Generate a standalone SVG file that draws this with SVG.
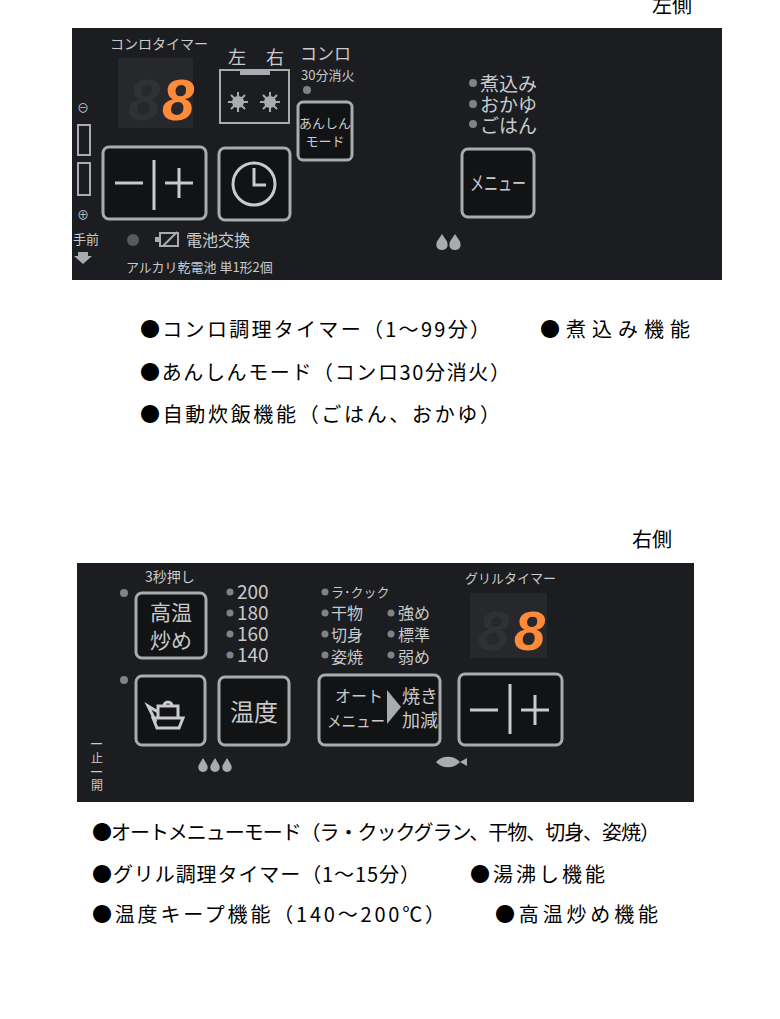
<svg xmlns="http://www.w3.org/2000/svg" width="780" height="1019" viewBox="0 0 780 1019">
<defs>
<style>
.p{fill:#1c1d20}
.btn{fill:#121315;stroke:#a9abaf;stroke-width:3}
.t{font-family:"Noto Sans CJK JP","Liberation Sans",sans-serif;fill:#c9cacc}
.b{font-family:"Noto Sans CJK JP","Liberation Sans",sans-serif;fill:#000;font-size:20px}
.dot{fill:#808285}
.seg{fill:#ff8a3a}
.ln{stroke:#c9cacc;stroke-width:3;fill:none}
</style>
</defs>
<rect width="780" height="1019" fill="#fff"/>
<text class="b" x="652" y="13" font-size="18">左側</text>
<g id="panel-left">
<rect class="p" x="72" y="28" width="650" height="252"/>
<text class="t" x="110" y="49" font-size="14">コンロタイマー</text>
<rect x="118" y="58" width="75" height="70" fill="#26282b"/>
<text x="128" y="120" font-family="Liberation Sans,sans-serif" font-size="58" font-style="italic" font-weight="bold" fill="#2f3134">8</text>
<text x="162" y="120" font-family="Liberation Sans,sans-serif" font-size="58" font-style="italic" font-weight="bold" class="seg">8</text>
<text class="t" x="228" y="64" font-size="18">左</text>
<text class="t" x="266" y="64" font-size="18">右</text>
<rect x="220" y="70" width="69" height="53" fill="none" stroke="#a9abaf" stroke-width="2"/>
<rect x="240" y="71" width="30" height="4" fill="#a9abaf"/>
<g fill="#a9abaf"><circle cx="238" cy="102" r="6"/><circle cx="270" cy="102" r="6"/></g>
<g stroke="#a9abaf" stroke-width="2"><path d="M238 92v20M228 102h20M231 95l14 14M245 95l-14 14M270 92v20M260 102h20M263 95l14 14M277 95l-14 14"/></g>
<text class="t" x="300" y="60" font-size="17">コンロ</text>
<text class="t" x="301" y="80" font-size="13">30分消火</text>
<circle class="dot" cx="307" cy="90" r="4"/>
<g id="anshin"><rect class="btn" x="298" y="102" width="54" height="58" rx="5"/>
<text class="t" x="325" y="128" font-size="13" text-anchor="middle">あんしん</text>
<text class="t" x="325" y="146" font-size="13" text-anchor="middle">モード</text></g>
<circle class="dot" cx="473" cy="83" r="4"/><circle class="dot" cx="473" cy="104" r="4"/><circle class="dot" cx="473" cy="124" r="4"/>
<text class="t" x="480" y="91" font-size="19">煮込み</text>
<text class="t" x="480" y="112" font-size="19">おかゆ</text>
<text class="t" x="480" y="133" font-size="19">ごはん</text>
<g id="menu"><rect class="btn" x="462" y="149" width="72" height="68" rx="6"/>
<text class="t" x="470" y="191" font-size="20" textLength="56" lengthAdjust="spacingAndGlyphs">メニュー</text></g>
<g id="minusplus1"><rect class="btn" x="103" y="147" width="103" height="72" rx="6"/>
<path class="ln" d="M115 183h28M154 160v50M165 183h28M179 168v30" stroke-width="4"/></g>
<g id="clock"><rect class="btn" x="219" y="148" width="71" height="72" rx="6"/>
<circle cx="254" cy="184" r="21" class="ln" stroke-width="2.5"/>
<path class="ln" d="M254 168v17h12" stroke-width="2.5"/></g>
<g class="t" font-size="12"><text x="77" y="113">⊖</text><text x="77" y="220">⊕</text></g>
<rect x="78" y="125" width="12" height="30" fill="none" stroke="#a9abaf" stroke-width="2"/>
<rect x="78" y="163" width="12" height="32" fill="none" stroke="#a9abaf" stroke-width="2"/>
<text class="t" x="73" y="244" font-size="13">手前</text>
<path d="M78 252h10v4h4l-9 8-9-8h4z" fill="#a9abaf"/>
<circle cx="133" cy="240" r="6" fill="#58595c"/>
<rect x="160" y="233" width="18" height="13" fill="none" stroke="#a9abaf" stroke-width="2"/>
<rect x="155" y="237" width="5" height="5" fill="#a9abaf"/>
<path d="M163 246l14-14" stroke="#a9abaf" stroke-width="2"/>
<text class="t" x="186" y="246" font-size="16">電池交換</text>
<text class="t" x="126" y="272" font-size="13">アルカリ乾電池 単1形2個</text>
<g fill="#a9abaf"><path d="M442 250c-6 0-7-6-4-10l4-6 4 6c3 4 2 10-4 10z"/><path d="M455 250c-6 0-7-6-4-10l4-6 4 6c3 4 2 10-4 10z"/></g>
</g>
<g id="bullets-left">
<text class="b" x="140" y="337" textLength="350">●コンロ調理タイマー（1～99分）</text>
<text class="b" x="540" y="337" textLength="150">●煮込み機能</text>
<text class="b" x="140" y="380" textLength="370">●あんしんモード（コンロ30分消火）</text>
<text class="b" x="140" y="422" textLength="360">●自動炊飯機能（ごはん、おかゆ）</text>
</g>
<text class="b" x="632" y="547" font-size="18">右側</text>
<g id="panel-right">
<rect class="p" x="77" y="563" width="617" height="239"/>
<text class="t" x="145" y="582" font-size="14">3秒押し</text>
<circle class="dot" cx="124" cy="593" r="4"/>
<g id="koon"><rect class="btn" x="136" y="593" width="70" height="65" rx="6"/>
<text class="t" x="171" y="620" font-size="21" text-anchor="middle">高温</text>
<text class="t" x="171" y="648" font-size="21" text-anchor="middle">炒め</text></g>
<g class="dot"><circle cx="230" cy="592" r="3.5"/><circle cx="230" cy="613" r="3.5"/><circle cx="230" cy="634" r="3.5"/><circle cx="230" cy="655" r="3.5"/></g>
<g class="t" font-size="19" font-family="Liberation Sans,sans-serif"><text x="237" y="599">200</text><text x="237" y="620">180</text><text x="237" y="641">160</text><text x="237" y="662">140</text></g>
<g class="dot"><circle cx="325" cy="592" r="3.5"/><circle cx="325" cy="613" r="3.5"/><circle cx="325" cy="634" r="3.5"/><circle cx="325" cy="655" r="3.5"/><circle cx="391" cy="613" r="3.5"/><circle cx="391" cy="634" r="3.5"/><circle cx="391" cy="655" r="3.5"/></g>
<g class="t" font-size="16"><text x="331" y="597" font-size="13">ラ･クック</text><text x="331" y="619">干物</text><text x="331" y="641">切身</text><text x="331" y="663">姿焼</text>
<text x="398" y="619">強め</text><text x="398" y="641">標準</text><text x="398" y="663">弱め</text></g>
<text class="t" x="465" y="583" font-size="13">グリルタイマー</text>
<rect x="470" y="593" width="77" height="65" fill="#26282b"/>
<text x="478" y="650" font-family="Liberation Sans,sans-serif" font-size="56" font-style="italic" font-weight="bold" fill="#2f3134">8</text>
<text x="514" y="650" font-family="Liberation Sans,sans-serif" font-size="56" font-style="italic" font-weight="bold" class="seg">8</text>
<circle class="dot" cx="124" cy="680" r="4"/>
<g id="kettle"><rect class="btn" x="136" y="676" width="69" height="69" rx="6"/>
<path class="ln" stroke-width="2.5" d="M153 718h30l-4 10h-22zM158 718v-12h20v12M164 706a4 4 0 0 1 8 0M158 712l-10-6 8 16"/></g>
<g id="ondo"><rect class="btn" x="219" y="677" width="70" height="68" rx="6"/>
<text class="t" x="254" y="721" font-size="24" text-anchor="middle">温度</text></g>
<g id="auto"><rect class="btn" x="319" y="675" width="121" height="70" rx="6"/>
<text class="t" x="335" y="702" font-size="16">オート</text>
<text class="t" x="327" y="727" font-size="16" textLength="58" lengthAdjust="spacingAndGlyphs">メニュー</text>
<path d="M387 690l14 17-14 17z" fill="#a9abaf"/>
<text class="t" x="402" y="703" font-size="18">焼き</text>
<text class="t" x="402" y="727" font-size="18">加減</text></g>
<g id="minusplus2"><rect class="btn" x="459" y="674" width="103" height="71" rx="6"/>
<path class="ln" d="M470 710h28M510 684v50M521 710h28M535 695v30" stroke-width="4"/></g>
<text class="t" x="91" y="748" font-size="11">━</text>
<text class="t" x="91" y="763" font-size="12">止</text>
<text class="t" x="91" y="776" font-size="11">━</text>
<text class="t" x="91" y="790" font-size="12">開</text>
<g fill="#a9abaf"><path d="M203 772c-5 0-6-5-3-9l3-5 3 5c3 4 2 9-3 9z"/><path d="M215 772c-5 0-6-5-3-9l3-5 3 5c3 4 2 9-3 9z"/><path d="M227 772c-5 0-6-5-3-9l3-5 3 5c3 4 2 9-3 9z"/></g>
<path d="M436 762c6-7 18-7 24 0l7-4v8l-7-4c-6 7-18 7-24 0z" fill="#a9abaf"/>
</g>
<g id="bullets-right">
<text class="b" x="92" y="840" textLength="568">●オートメニューモード（ラ・クックグラン、干物、切身、姿焼）</text>
<text class="b" x="92" y="882" textLength="328">●グリル調理タイマー（1～15分）</text>
<text class="b" x="470" y="882" textLength="135">●湯沸し機能</text>
<text class="b" x="92" y="922" textLength="353">●温度キープ機能（140～200℃）</text>
<text class="b" x="495" y="922" textLength="163">●高温炒め機能</text>
</g>
</svg>
